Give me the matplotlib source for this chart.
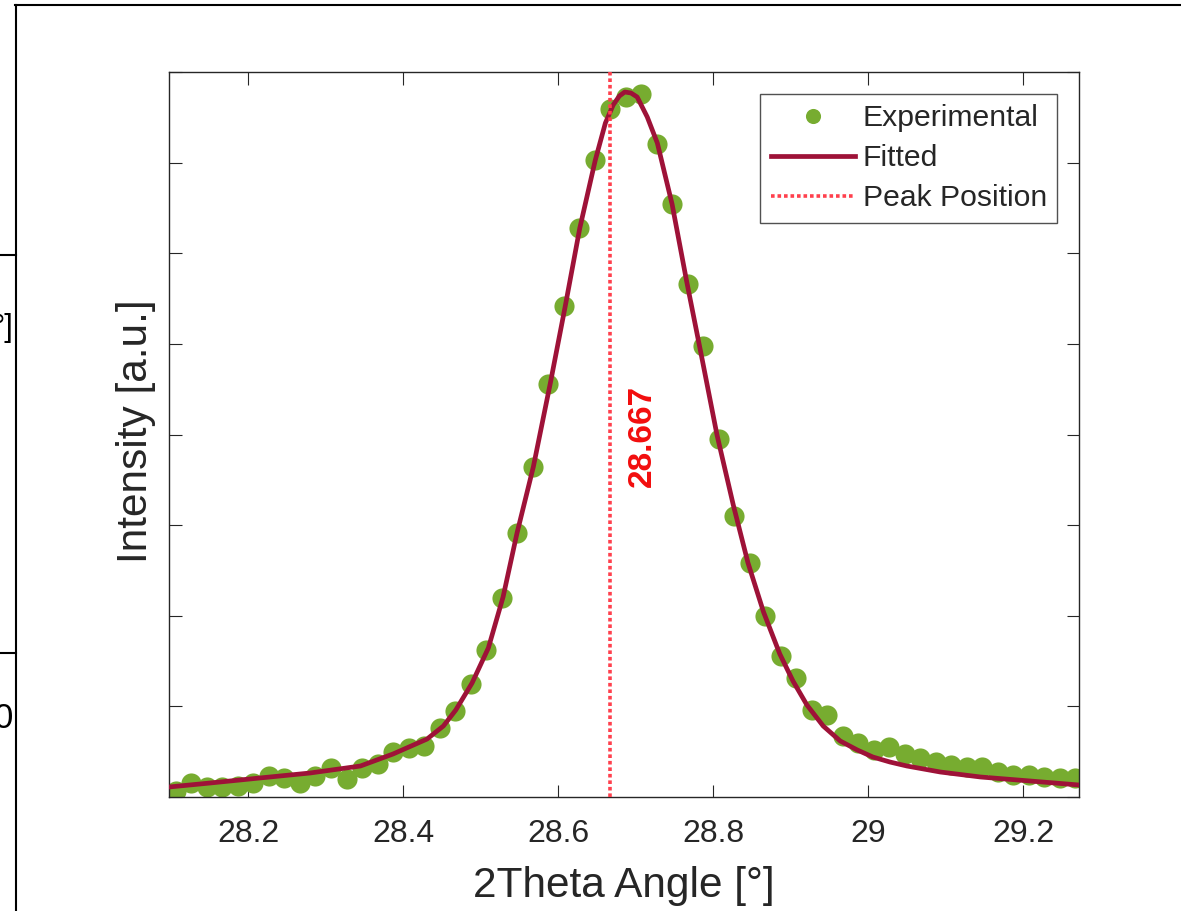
import matplotlib
matplotlib.use("Agg")
import matplotlib.pyplot as plt
from matplotlib.lines import Line2D
import numpy as np

plt.rcParams['font.family'] = ['Liberation Sans', 'DejaVu Sans']

# ---- data (intensity in arbitrary units) ----
exp_x = [28.107, 28.127, 28.147, 28.167, 28.187, 28.207, 28.227, 28.247, 28.267, 28.287,
         28.307, 28.327, 28.347, 28.367, 28.387, 28.407, 28.427, 28.447, 28.467, 28.487,
         28.507, 28.527, 28.547, 28.567, 28.587, 28.607, 28.627, 28.647, 28.667, 28.687,
         28.707, 28.727, 28.747, 28.767, 28.787, 28.807, 28.827, 28.847, 28.867, 28.887,
         28.907, 28.927, 28.947, 28.967, 28.987, 29.007, 29.027, 29.047, 29.067, 29.087,
         29.107, 29.127, 29.147, 29.167, 29.187, 29.207, 29.227, 29.247, 29.267]
exp_y = [6, 14, 10, 10, 11, 14, 21, 19, 14, 21,
         29, 18, 29, 33, 45, 49, 51, 69, 86, 113,
         147, 199, 264, 330, 413, 491, 569, 637, 688, 700,
         703, 653, 593, 513, 451, 358, 281, 234, 181, 141,
         119, 87, 82, 61, 54, 47, 50, 43, 39, 35,
         32, 30, 30, 25, 22, 22, 20, 19, 19]

fit_x = [28.098, 28.151, 28.215, 28.280, 28.345, 28.387, 28.431, 28.452, 28.468, 28.489,
         28.510, 28.529, 28.547, 28.568, 28.590, 28.609, 28.628, 28.648, 28.661, 28.671,
         28.679, 28.686, 28.694, 28.702, 28.715, 28.728, 28.747, 28.766, 28.786, 28.805,
         28.826, 28.845, 28.865, 28.886, 28.903, 28.921, 28.942, 28.964, 28.986, 29.006,
         29.028, 29.050, 29.093, 29.145, 29.209, 29.272]
fit_y = [10, 14, 19, 24, 31, 43, 58, 71, 87, 114,
         149, 200, 264, 330, 414, 490, 569, 637, 674, 692,
         701, 705, 704, 700, 680, 654, 593, 515, 437, 362,
         292, 234, 185, 143, 116, 92, 71, 56, 47, 40,
         35, 31, 25, 20, 16, 12]

peak_pos = 28.667
peak_label = "28.667"
x_ticks = [28.2, 28.4, 28.6, 28.8, 29.0, 29.2]
x_ticklabels = ["28.2", "28.4", "28.6", "28.8", "29", "29.2"]

# ---- styling ----
green = (0.466, 0.674, 0.188)
maroon = (0.62, 0.07, 0.22)
peak_red = (1.0, 0.25, 0.3)
axis_col = (0.15, 0.15, 0.15)

fig = plt.figure(figsize=(11.81, 9.11), dpi=100)
ax = fig.add_axes([169/1181, 1-797/911, (1079-169)/1181, (797-72)/911])

ax.plot(exp_x, exp_y, 'o', color=green, markersize=14.5, markeredgewidth=0,
        label='Experimental', zorder=2)
ax.plot(fit_x, fit_y, '-', color=maroon, linewidth=3.4, label='Fitted', zorder=3)
ax.axvline(peak_pos, color=peak_red, linewidth=2.6, linestyle=(0, (1, 0.8)),
           label='Peak Position', zorder=4)
ax.text(28.709, 361, peak_label, rotation=90, color=(0.95, 0.05, 0.05),
        fontsize=24, fontweight='bold', ha='center', va='center', zorder=5)

ax.set_xlim(28.098, 29.272)
ax.set_ylim(0, 725)
ax.set_xticks(x_ticks)
ax.set_xticklabels(x_ticklabels)
ax.set_yticks(np.linspace(0, 725, 9))
ax.set_yticklabels([])
ax.tick_params(direction='in', length=9, width=0.8, colors=axis_col,
               top=True, right=True, labelsize=23, pad=16)
for s in ax.spines.values():
    s.set_color(axis_col)
    s.set_linewidth(1.0)

ax.set_xlabel('2Theta Angle [°]', fontsize=30.5, color=axis_col, labelpad=12)
ax.set_ylabel('Intensity [a.u.]', fontsize=30.5, color=axis_col)
ax.yaxis.set_label_coords(-0.014, 0.504)

leg = ax.legend(loc='upper right', fontsize=21.7, frameon=True, fancybox=False,
                edgecolor=axis_col, handlelength=2.8, handletextpad=0.25,
                labelspacing=0.4, borderaxespad=0.72, borderpad=0.35,
                markerscale=0.75)
leg.get_frame().set_linewidth(1.0)
for t in leg.get_texts():
    t.set_color(axis_col)

# ---- partial neighbouring figure frame visible in the screenshot ----
W, H = 1181, 911
def px_line(x0, y0, x1, y1, **kw):
    fig.add_artist(Line2D([x0/W, x1/W], [1-y0/H, 1-y1/H], transform=fig.transFigure, **kw))

px_line(15, 5, 1181, 5, color='black', linewidth=1.5)
px_line(16, 5, 16, 911, color='black', linewidth=1.5)
px_line(0, 255, 16, 255, color='black', linewidth=1.5)
px_line(0, 653, 16, 653, color='black', linewidth=1.5)
fig.text(13/W, 1-718/H, '0', fontsize=25, ha='right', va='center', color='black')
fig.text(13/W, 1-328/H, '°]', fontsize=22, ha='right', va='center', color='black')

fig.savefig('out.png', dpi=100)
